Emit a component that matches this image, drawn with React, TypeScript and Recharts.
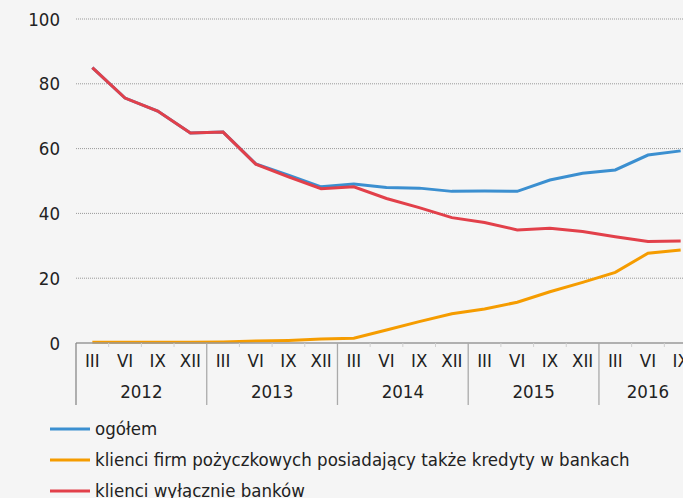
import React from "react";
import { LineChart, Line, XAxis, YAxis, CartesianGrid, Legend } from "recharts";

const quarters = ["III", "VI", "IX", "XII", "III", "VI", "IX", "XII", "III", "VI", "IX", "XII", "III", "VI", "IX", "XII", "III", "VI", "IX"];
const years = [2012, 2012, 2012, 2012, 2013, 2013, 2013, 2013, 2014, 2014, 2014, 2014, 2015, 2015, 2015, 2015, 2016, 2016, 2016];
const ogolem = [85, 75.6, 71.6, 64.8, 65.1, 55.3, 51.8, 48.2, 49.1, 48.0, 47.8, 46.8, 46.9, 46.8, 50.3, 52.4, 53.4, 58.0, 59.3];
const firmy = [0.2, 0.2, 0.2, 0.2, 0.3, 0.6, 0.8, 1.2, 1.5, 4.0, 6.6, 9.0, 10.5, 12.6, 15.8, 18.7, 21.8, 27.7, 28.7];
const banki = [85, 75.6, 71.6, 64.8, 65.1, 55.2, 51.3, 47.6, 48.2, 44.6, 41.8, 38.7, 37.2, 34.9, 35.4, 34.4, 32.8, 31.3, 31.5];
const yTicks = [0, 20, 40, 60, 80, 100];

const seriesNames = {
  ogolem: "ogółem",
  firmy: "klienci firm pożyczkowych posiadający także kredyty w bankach",
  banki: "klienci wyłącznie banków",
};
const colors = { ogolem: "#3b8fd0", firmy: "#f59c00", banki: "#e2404a" };

const data = quarters.map((q, i) => ({
  key: `${years[i]}-${q}`,
  q,
  year: years[i],
  ogolem: ogolem[i],
  firmy: firmy[i],
  banki: banki[i],
}));

const FONT = "'DejaVu Sans Condensed', 'DejaVu Sans', sans-serif";
const CHART_W = 710;
const CHART_H = 506;
const MARGIN = { top: 19, right: 13, left: 0, bottom: 0 };
const Y_W = 76;
const BAND = (CHART_W - MARGIN.right - MARGIN.left - Y_W) / data.length;

const QuarterTick = (props: any) => {
  const { x, y, payload, index } = props;
  const i = index ?? payload?.index ?? 0;
  const d = data[i];
  const left = x - BAND / 2;
  const isFirst = i === 0 || data[i - 1].year !== d.year;
  const isLast = i === data.length - 1;
  let yearLabel = null;
  if (isFirst) {
    const count = data.filter((e) => e.year === d.year).length;
    yearLabel = (
      <text x={left + (count * BAND) / 2} y={y + 55} textAnchor="middle" fontSize={18.5} fill="#222" fontFamily={FONT}>
        {d.year}
      </text>
    );
  }
  return (
    <g>
      {isFirst ? (
        <line x1={left} x2={left} y1={y} y2={y + 62} stroke={i === 0 ? "#888" : "#aaa"} strokeWidth={1.3} />
      ) : (
        <line x1={left} x2={left} y1={y} y2={y + 4} stroke="#d0d0d0" strokeWidth={1} />
      )}
      {isLast ? <line x1={left + BAND} x2={left + BAND} y1={y} y2={y + 62} stroke="#aaa" strokeWidth={1.3} /> : null}
      <text x={x} y={y + 24} textAnchor="middle" fontSize={18.5} fill="#222" fontFamily={FONT}>
        {d.q}
      </text>
      {yearLabel}
    </g>
  );
};

const LegendContent = () => {
  const items = [
    { k: "ogolem", c: colors.ogolem, n: seriesNames.ogolem },
    { k: "firmy", c: colors.firmy, n: seriesNames.firmy },
    { k: "banki", c: colors.banki, n: seriesNames.banki },
  ];
  return (
    <div style={{ paddingLeft: 50 }}>
      {items.map((it) => (
        <div key={it.k} style={{ height: 31, display: "flex", alignItems: "center" }}>
          <svg width={45} height={6} style={{ display: "block" }}>
            <line x1={0} x2={40} y1={3} y2={3} stroke={it.c} strokeWidth={3} />
          </svg>
          <span style={{ fontFamily: FONT, fontSize: 18.5, color: "#222", whiteSpace: "nowrap" }}>{it.n}</span>
        </div>
      ))}
    </div>
  );
};

export default function App() {
  return (
    <div style={{ position: "absolute", left: 0, top: 0, width: 683, height: 498, overflow: "hidden", background: "#f5f5f5" }}>
      <LineChart width={CHART_W} height={CHART_H} data={data} margin={MARGIN}>
        <CartesianGrid vertical={false} stroke="#999" strokeDasharray="1 1" horizontalValues={[20, 40, 60, 80, 100]} />
        <XAxis
          dataKey="key"
          scale="band"
          interval={0}
          height={70}
          tickSize={0}
          tickMargin={0}
          tickLine={false}
          axisLine={{ stroke: "#999", strokeWidth: 1.3 }}
          tick={<QuarterTick />}
        />
        <YAxis
          width={Y_W}
          domain={[0, 100]}
          ticks={yTicks}
          axisLine={false}
          tickLine={false}
          tickSize={0}
          tickMargin={16}
          tick={{ fontSize: 18.5, fill: "#222", fontFamily: FONT }}
        />
        <Legend verticalAlign="bottom" layout="horizontal" content={<LegendContent />} />
        <Line dataKey="ogolem" name={seriesNames.ogolem} stroke={colors.ogolem} strokeWidth={3} dot={false} isAnimationActive={false} />
        <Line dataKey="firmy" name={seriesNames.firmy} stroke={colors.firmy} strokeWidth={3} dot={false} isAnimationActive={false} />
        <Line dataKey="banki" name={seriesNames.banki} stroke={colors.banki} strokeWidth={3} dot={false} isAnimationActive={false} />
      </LineChart>
    </div>
  );
}
